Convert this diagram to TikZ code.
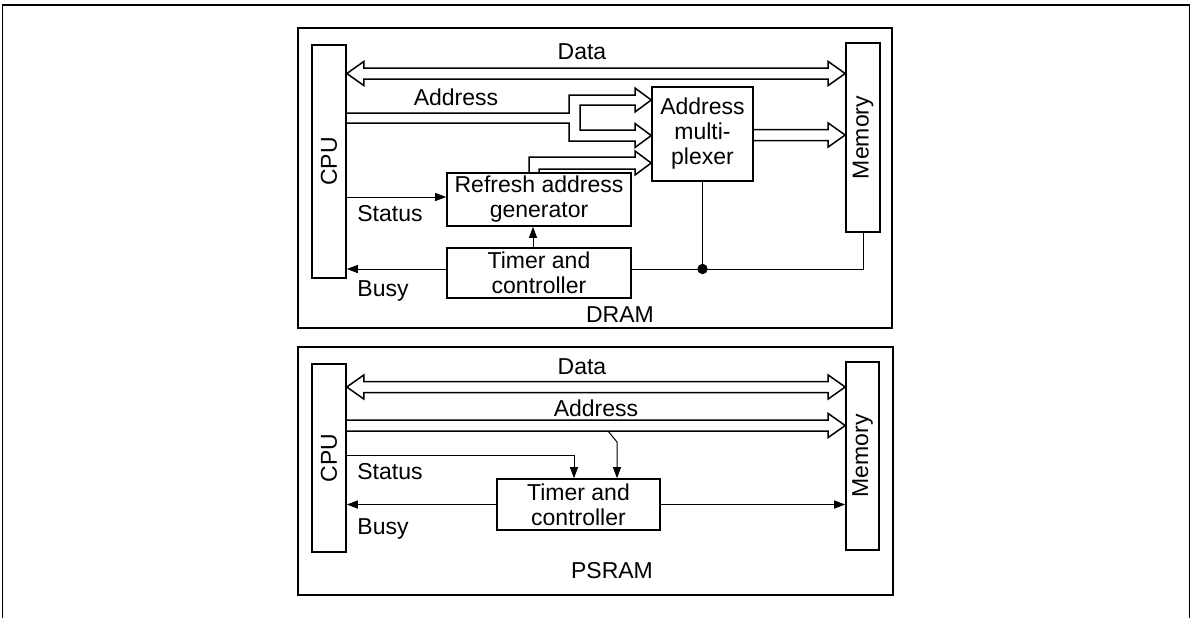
\documentclass[tikz,border=0pt]{standalone}
\usepackage{fontspec}
\setmainfont{Liberation Sans}
\usetikzlibrary{arrows.meta,calc}
\tikzset{
  frame/.style={draw, line width=0.8pt, inner sep=0pt},
  blk/.style={draw, line width=0.8pt, inner sep=0pt, align=center},
  sig/.style={-{Triangle[length=5.5pt,width=4pt]}, line width=0.5pt},
  wire/.style={line width=0.5pt},
  bus/.style={line width=0.75pt, line join=miter},
  lbl/.style={inner sep=0pt},
}
% hollow bus arrows: shaft half width, head half width, head length
\newcommand{\dbus}[2]{\draw[bus] let \p1=#1, \p2=#2 in
  (\x1,\y1) -- (\x1+8.5pt,\y1+6pt) -- (\x1+8.5pt,\y1+2.75pt) -- (\x2-8.5pt,\y1+2.75pt)
  -- (\x2-8.5pt,\y1+6pt) -- (\x2,\y1) -- (\x2-8.5pt,\y1-6pt) -- (\x2-8.5pt,\y1-2.75pt)
  -- (\x1+8.5pt,\y1-2.75pt) -- (\x1+8.5pt,\y1-6pt) -- cycle;}
\newcommand{\rbus}[2]{\draw[bus] let \p1=#1, \p2=#2 in
  (\x1,\y1+2.75pt) -- (\x2-8.5pt,\y1+2.75pt) -- (\x2-8.5pt,\y1+6pt) -- (\x2,\y1)
  -- (\x2-8.5pt,\y1-6pt) -- (\x2-8.5pt,\y1-2.75pt) -- (\x1,\y1-2.75pt);}

\begin{document}
\begin{tikzpicture}[x=0.5pt,y=-0.5pt,font=\fontsize{11.5}{12.5}\selectfont]
  \useasboundingbox (0,0) rectangle (1196,618);
  % page rule
  \draw[line width=0.8pt] (2.5,618) -- (2.5,5) -- (1189.5,5) -- (1189.5,618);

  % ---- DRAM ----
  \node[frame, minimum width=297pt, minimum height=150pt] (dram) at (595,178) {};
  \node[blk, minimum width=17pt, minimum height=116.5pt] (cpuA) at (329,161.5) {};
  \node[rotate=90] at (cpuA.center) {CPU};
  \node[blk, minimum width=17pt, minimum height=94.5pt] (memA) at (863,137.5) {};
  \node[rotate=90] at (memA.center) {Memory};
  \node[blk, minimum width=50.5pt, minimum height=47pt] (muxA) at (702.5,134) {Address\\multi-\\plexer};
  \node[blk, minimum width=92pt, minimum height=26.5pt] (refA) at (539,199.5) {Refresh address\\generator};
  \node[blk, minimum width=92pt, minimum height=25pt] (timA) at (539,273) {Timer and\\controller};

  \dbus{(cpuA.east|-0,73.5)}{(memA.west|-0,73.5)}
  \draw[bus] (cpuA.east|-0,113) -- (569,113) -- (569,95) -- (635,95) -- (635,88)
    -- (muxA.west|-0,100) -- (635,112) -- (635,105) -- (580,105) -- (580,130)
    -- (635,130) -- (635,123.5) -- (muxA.west|-0,135.5) -- (635,147.5) -- (635,141)
    -- (569,141) -- (569,123) -- (cpuA.east|-0,123);
  \draw[bus] ([xshift=-5pt]refA.north) -- (529,157) -- (635,157) -- (635,151)
    -- (muxA.west|-0,163) -- (635,175) -- (635,169) -- (539,169) -- (refA.north);
  \rbus{(muxA.east|-0,135)}{(memA.west|-0,135)}

  \draw[sig] (cpuA.east|-0,197) -- (refA.west|-0,197);
  \draw[sig] ([xshift=-3pt]timA.north) -- ([xshift=-3pt]refA.south);
  \draw[sig] (timA.west|-0,269) -- (cpuA.east|-0,269);
  \coordinate (jn) at (muxA.south|-0,269);
  \draw[wire] (timA.east|-0,269) -- (memA.south|-0,269) -- (memA.south);
  \draw[wire] (muxA.south) -- (jn);
  \fill (jn) circle (2.6pt);

  \node[lbl] at (582,52) {Data};
  \node[lbl] at (456,97) {Address};
  \node[lbl] at (390,214) {Status};
  \node[lbl] at (383,291) {Busy};
  \node[lbl] at (620,315) {DRAM};

  % ---- PSRAM ----
  \node[frame, minimum width=297.5pt, minimum height=124pt] (psram) at (595.5,471) {};
  \node[blk, minimum width=17pt, minimum height=94pt] (cpuB) at (329,458) {};
  \node[rotate=90] at (cpuB.center) {CPU};
  \node[blk, minimum width=16.5pt, minimum height=94pt] (memB) at (862.5,456) {};
  \node[rotate=90] at (memB.center) {Memory};
  \node[blk, minimum width=81.5pt, minimum height=25.5pt] (timB) at (578.5,504.5) {Timer and\\controller};

  \dbus{(cpuB.east|-0,387)}{(memB.west|-0,387)}
  \rbus{(cpuB.east|-0,425.5)}{(memB.west|-0,425.5)}

  \draw[sig] (cpuB.east|-0,455) -| (574,0|-timB.north);
  \draw[sig] (608,431) -- (617,442) -- (617,0|-timB.north);
  \draw[sig] (timB.west) -- (cpuB.east|-timB.west);
  \draw[sig] (timB.east) -- (memB.west|-timB.east);

  \node[lbl] at (582,367) {Data};
  \node[lbl] at (596,408) {Address};
  \node[lbl] at (390,472) {Status};
  \node[lbl] at (383,529) {Busy};
  \node[lbl] at (612,571) {PSRAM};
\end{tikzpicture}
\end{document}
